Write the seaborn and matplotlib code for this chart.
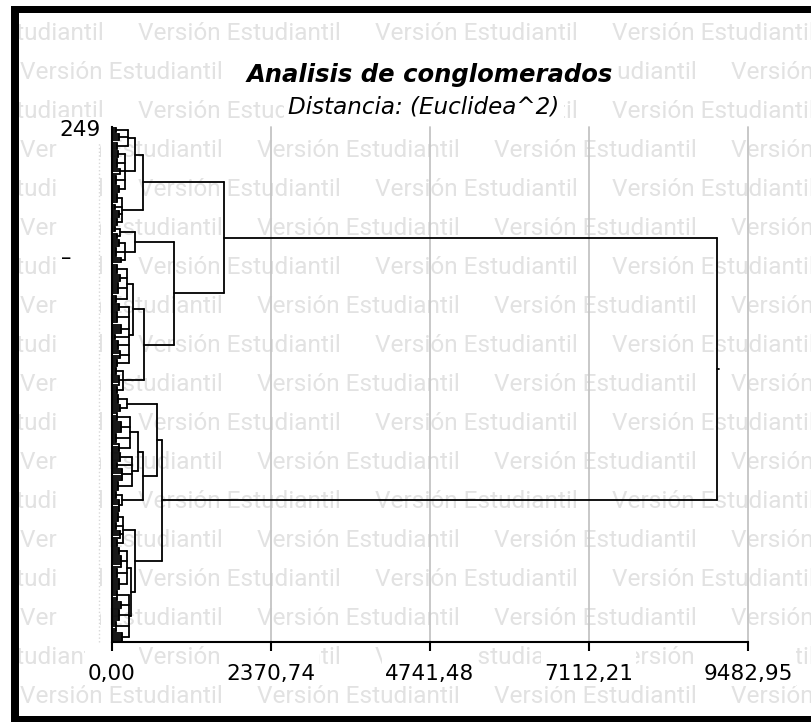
import matplotlib
matplotlib.use('Agg')
import matplotlib.pyplot as plt
import numpy as np
import pandas as pd
import seaborn as sns
from matplotlib.patches import Rectangle
from matplotlib.lines import Line2D

# ---- values ----
n_leaves = 249
x_ticks = [0.00, 2370.74, 4741.48, 7112.21, 9482.95]
x_tick_labels = ["0,00", "2370,74", "4741,48", "7112,21", "9482,95"]

# small leaf bundles, top to bottom: leaf count, joining distance, group they belong to
bundle_sizes = [3, 4, 4,  4, 5, 3, 5, 4,  5, 3, 4, 4,  3, 3,  4, 5, 3,
                5, 4, 6, 4,  4, 6, 5, 3, 5, 4, 4,  4, 5, 4,  5, 4,
                4, 6, 5, 4,  5, 3, 6, 5,  4, 6,  5, 4, 4, 4,
                4, 6, 5, 6,  5, 4, 6, 5, 5]
bundle_heights = [60, 110, 80,  90, 70, 120, 60, 100,  80, 50, 110, 70,  40, 70,  100, 60, 130,
                  70, 120, 90, 60,  110, 80, 140, 50, 90, 120, 70,  60, 100, 80,  90, 120,
                  80, 130, 60, 100,  120, 70, 150, 90,  60, 100,  90, 60, 120, 80,
                  100, 140, 70, 110,  80, 130, 100, 60, 150]
bundle_group = [0, 0, 0,  1, 1, 1, 1, 1,  2, 2, 2, 2,  3, 3,  4, 4, 4,
                5, 5, 5, 5,  6, 6, 6, 6, 6, 6, 6,  7, 7, 7,  8, 8,
                9, 9, 9, 9,  10, 10, 10, 10,  11, 11,  12, 12, 12, 12,
                13, 13, 13, 13,  14, 14, 14, 14, 14]

# distance at which each group's bundles join
group_heights = [240, 195, 150, 120, 195, 220, 250, 165, 224, 270, 300, 150, 165, 225, 255]

# merges (ids 0-14 are groups, id 15+k is the result of merge k)
merge_left = [0, 15, 3, 5, 18, 17, 16, 9, 22, 8, 13, 12, 24, 21]
merge_right = [1, 2, 4, 6, 7, 19, 20, 10, 11, 23, 14, 25, 26, 27]
merge_height = [343, 462, 340, 314, 477, 924, 1670, 388, 462, 671, 285, 343, 745, 9020]

W, H = 812, 722

# ---- build the dendrogram segments ----
segs = []
leaf_y = np.arange(n_leaves, 0, -1)
pos = 0
bundle_stem = []
for size, h in zip(bundle_sizes, bundle_heights):
    ys = leaf_y[pos:pos + size]
    for y in ys:
        segs.append((0, y, h, y))
    segs.append((h, ys[0], h, ys[-1]))
    bundle_stem.append(((ys[0] + ys[-1]) / 2, h))
    pos += size

node_y, node_h = {}, {}
for g, gh in enumerate(group_heights):
    members = [i for i, bg in enumerate(bundle_group) if bg == g]
    for i in members:
        y, h = bundle_stem[i]
        segs.append((h, y, gh, y))
    y0, y1 = bundle_stem[members[0]][0], bundle_stem[members[-1]][0]
    segs.append((gh, y0, gh, y1))
    node_y[g], node_h[g] = (y0 + y1) / 2, gh

n_groups = len(group_heights)
for k, (a, b, h) in enumerate(zip(merge_left, merge_right, merge_height)):
    for c in (a, b):
        segs.append((node_h[c], node_y[c], h, node_y[c]))
    segs.append((h, node_y[a], h, node_y[b]))
    node_y[n_groups + k], node_h[n_groups + k] = (node_y[a] + node_y[b]) / 2, h
root = n_groups + len(merge_height) - 1
segs.append((node_h[root], node_y[root], node_h[root] + 25, node_y[root]))

rows = []
for i, (x0, y0, x1, y1) in enumerate(segs):
    rows.append((i, x0, y0))
    rows.append((i, x1, y1))
df = pd.DataFrame(rows, columns=["seg", "x", "y"])

# ---- figure ----
sns.set_style("white")
plt.rcParams['font.family'] = ['DejaVu Sans']
plt.rcParams['text.color'] = 'black'
plt.rcParams['xtick.color'] = 'black'
plt.rcParams['ytick.color'] = 'black'

fig = plt.figure(figsize=(W / 100, H / 100), dpi=100)
fig.patch.set_facecolor('white')

# watermark
for r in range(18):
    base = 40 + 39 * r
    x0 = -99 if r % 2 == 0 else 20
    for j in range(5):
        fig.text((x0 + 237 * j) / W, 1 - base / H, "Versión Estudiantil", ha='left', va='baseline',
                 fontsize=17.6, family='Roboto', color='#e2e2e2', zorder=-5)

# white band behind the y labels
fig.add_artist(Rectangle((58 / W, 1 - 642 / H), 42 / W, 522 / H, transform=fig.transFigure,
                         facecolor='white', edgecolor='none', zorder=-4))
fig.add_artist(Line2D([99 / W, 99 / W], [1 - 642 / H, 1 - 127 / H], transform=fig.transFigure,
                      ls=':', color='#d8d8d8', lw=1, zorder=-3.5))

fig.text(430 / W, 1 - 82 / H, "Analisis de conglomerados", ha='center', va='baseline',
         fontsize=17.5, fontweight='bold', fontstyle='italic',
         bbox=dict(facecolor='white', edgecolor='none', pad=3), zorder=-3)
fig.text(424 / W, 1 - 113 / H, "Distancia: (Euclidea^2)", ha='center', va='baseline',
         fontsize=16.6, fontstyle='italic',
         bbox=dict(facecolor='white', edgecolor='none', pad=3), zorder=-3)
fig.text(66 / W, 1 - 258 / H, "–", ha='center', va='center', fontsize=15, color='black')

ax = fig.add_axes([112 / W, 1 - 642 / H, 636 / W, 515 / H])
ax.patch.set_alpha(0)

sns.lineplot(data=df, x="x", y="y", units="seg", estimator=None, sort=False,
             color='black', lw=1.3, ax=ax)

ax.set_xlim(0, 9482.95)
ax.set_ylim(0.5, n_leaves + 0.5)
ax.set_xlabel("")
ax.set_ylabel("")
ax.set_xticks(x_ticks)
ax.set_xticklabels(x_tick_labels)
ax.set_yticks([n_leaves])
ax.set_yticklabels([str(n_leaves)])
ax.xaxis.grid(True, color='#c4c4c4', lw=1.3)
for gl in ax.get_xgridlines():
    gl.set_clip_on(False)
ax.set_axisbelow(True)
ax.tick_params(axis='x', direction='out', length=6.5, width=1.5, color='black',
               labelsize=15.5, pad=9, bottom=True)
ax.tick_params(axis='y', length=0, labelsize=15.5, pad=8.5, left=True)
for side in ['top', 'right']:
    ax.spines[side].set_visible(False)
for side in ['left', 'bottom']:
    ax.spines[side].set_color('black')
    ax.spines[side].set_linewidth(1.5)

# white boxes behind the tick labels (they hide the watermark like the original)
fig.canvas.draw()
for lbl in ax.get_xticklabels():
    bb = lbl.get_window_extent()
    fig.add_artist(Rectangle(((bb.x0 - 3) / W, 1 - 686 / H), (bb.width + 6) / W, 41 / H,
                             transform=fig.transFigure, facecolor='white', edgecolor='none', zorder=-3))
for lbl in ax.get_yticklabels():
    bb = lbl.get_window_extent()
    fig.add_artist(Rectangle(((bb.x0 - 3) / W, (bb.y0 - 3) / H), (bb.width + 6) / W, (bb.height + 6) / H,
                             transform=fig.transFigure, facecolor='white', edgecolor='none', zorder=-3))

# outer frame
fig.add_artist(Rectangle((0, 0), 11 / W, 1, transform=fig.transFigure,
                         facecolor='white', edgecolor='none', zorder=9))
fig.add_artist(Rectangle((11 / W, 0), 8 / W, 1 - 6 / H, transform=fig.transFigure,
                         facecolor='black', edgecolor='none', zorder=10))
fig.add_artist(Rectangle((11 / W, 1 - 13 / H), 1, 7 / H, transform=fig.transFigure,
                         facecolor='black', edgecolor='none', zorder=10))
fig.add_artist(Rectangle((11 / W, 0), 1, 6 / H, transform=fig.transFigure,
                         facecolor='black', edgecolor='none', zorder=10))

fig.savefig("out.png", dpi=100)
